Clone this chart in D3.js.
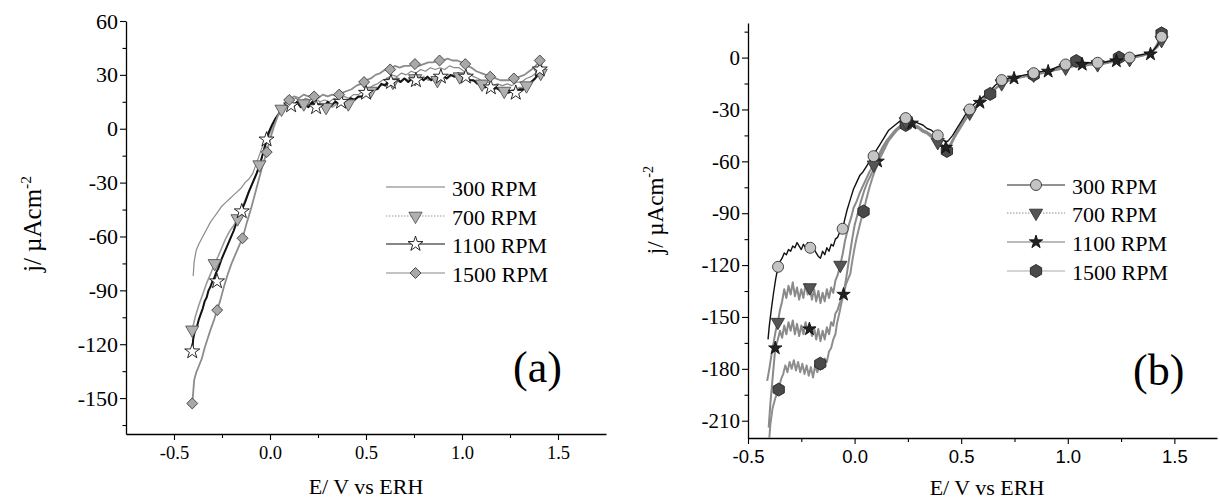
<!DOCTYPE html>
<html>
<head>
<meta charset="utf-8">
<script src="https://cdn.jsdelivr.net/npm/d3@7"></script>
<style>
  body { margin: 0; background: #fff; }
  svg { display: block; }
</style>
</head>
<body>
<script>
// ---- data, panel (a) : E (V vs ERH), j (uA cm-2)
const legendLabels = ["300 RPM", "700 RPM", "1100 RPM", "1500 RPM"];

const a300 = [[-0.40,-82],[-0.395,-74],[-0.385,-68],[-0.37,-64],[-0.35,-60],[-0.33,-56],[-0.31,-52],[-0.29,-49],[-0.27,-46],[-0.25,-43],[-0.23,-41],[-0.21,-39],[-0.19,-37],[-0.17,-35],[-0.15,-33],[-0.13,-30],[-0.11,-28],[-0.09,-25],[-0.07,-19],[-0.05,-13],[-0.03,-7],[-0.01,-2],[0.01,2],[0.03,6],[0.05,9],[0.07,12],[0.09,14],[0.11,16],[0.135,17],[0.16,15],[0.185,17],[0.21,16],[0.235,17],[0.26,15],[0.285,16],[0.31,15],[0.335,17],[0.36,16],[0.385,18],[0.41,17],[0.435,19],[0.46,19],[0.485,21],[0.51,22],[0.535,24],[0.56,25],[0.585,27],[0.61,28],[0.635,30],[0.66,29],[0.685,31],[0.71,30],[0.735,32],[0.76,31],[0.785,33],[0.81,32],[0.835,34],[0.86,33],[0.885,34],[0.91,33],[0.935,35],[0.96,34],[0.985,34],[1.01,32],[1.035,31],[1.06,29],[1.085,28],[1.11,26],[1.135,26],[1.16,24],[1.185,25],[1.21,24],[1.235,25],[1.26,24],[1.285,26],[1.31,26],[1.335,28],[1.36,29],[1.385,31],[1.41,34],[1.42,37]];

const a700 = [[-0.405,-112],[-0.39,-105],[-0.37,-98],[-0.35,-92],[-0.33,-86],[-0.31,-81],[-0.288,-75],[-0.27,-71],[-0.25,-66],[-0.23,-61],[-0.21,-57],[-0.19,-54],[-0.169,-50],[-0.15,-45],[-0.13,-40],[-0.11,-35],[-0.09,-30],[-0.07,-25],[-0.055,-20],[-0.03,-12],[-0.01,-5],[0.02,3],[0.04,7],[0.06,11],[0.08,13],[0.10,14],[0.125,13],[0.15,15],[0.175,14],[0.20,15],[0.225,13],[0.25,14],[0.275,12],[0.30,13],[0.325,12],[0.35,14],[0.375,15],[0.40,14],[0.425,16],[0.45,17],[0.475,18],[0.50,19],[0.525,21],[0.55,22],[0.575,24],[0.60,25],[0.625,26],[0.65,27],[0.675,26],[0.70,28],[0.725,27],[0.75,28],[0.775,27],[0.80,29],[0.825,27],[0.85,28],[0.875,27],[0.90,29],[0.925,28],[0.95,30],[0.975,29],[1.00,30],[1.025,28],[1.05,27],[1.075,26],[1.10,25],[1.125,24],[1.15,23],[1.175,22],[1.20,22],[1.225,21],[1.25,21],[1.275,22],[1.30,23],[1.325,23],[1.35,25],[1.375,27],[1.40,30],[1.415,33]];

const a1100 = [[-0.405,-124],[-0.40,-117],[-0.39,-112],[-0.38,-110],[-0.37,-106],[-0.36,-103],[-0.35,-100],[-0.34,-96],[-0.33,-94],[-0.32,-90],[-0.31,-88],[-0.30,-85],[-0.29,-83],[-0.28,-80],[-0.27,-78],[-0.25,-72],[-0.23,-67],[-0.21,-62],[-0.19,-57],[-0.17,-51],[-0.15,-46],[-0.13,-41],[-0.11,-35],[-0.09,-30],[-0.07,-25],[-0.05,-19],[-0.03,-11],[-0.01,-3],[0.01,2],[0.03,6],[0.05,9],[0.07,11],[0.085,13],[0.10,14],[0.12,12],[0.14,15],[0.16,12],[0.18,14],[0.20,12],[0.22,15],[0.24,12],[0.26,14],[0.28,12],[0.30,15],[0.32,13],[0.34,15],[0.36,14],[0.38,16],[0.40,15],[0.42,17],[0.44,16],[0.46,18],[0.48,18],[0.50,20],[0.52,20],[0.54,22],[0.56,22],[0.58,25],[0.60,24],[0.62,27],[0.64,26],[0.66,28],[0.68,26],[0.70,28],[0.72,26],[0.74,28],[0.76,27],[0.78,29],[0.80,27],[0.82,29],[0.84,27],[0.86,29],[0.88,28],[0.90,30],[0.92,28],[0.94,30],[0.96,29],[0.98,31],[1.00,29],[1.02,29],[1.04,27],[1.06,27],[1.08,25],[1.10,25],[1.12,23],[1.14,24],[1.16,22],[1.18,23],[1.20,21],[1.22,22],[1.24,20],[1.26,21],[1.28,20],[1.30,22],[1.32,22],[1.34,24],[1.36,26],[1.38,28],[1.40,31],[1.415,35]];

const a1500 = [[-0.405,-153],[-0.40,-147],[-0.395,-140],[-0.385,-136],[-0.37,-132],[-0.355,-128],[-0.34,-122],[-0.325,-117],[-0.31,-112],[-0.29,-106],[-0.275,-101],[-0.26,-96],[-0.24,-88],[-0.22,-81],[-0.20,-75],[-0.18,-70],[-0.16,-65],[-0.143,-61],[-0.12,-52],[-0.10,-45],[-0.08,-37],[-0.06,-29],[-0.04,-21],[-0.017,-13],[0.00,-6],[0.02,1],[0.04,7],[0.06,11],[0.08,14],[0.10,16],[0.125,18],[0.15,17],[0.175,19],[0.20,18],[0.225,19],[0.25,17],[0.275,19],[0.30,18],[0.325,19],[0.35,18],[0.375,20],[0.40,21],[0.425,22],[0.45,24],[0.475,25],[0.50,27],[0.525,28],[0.55,30],[0.575,31],[0.60,33],[0.625,33],[0.65,35],[0.675,34],[0.70,35],[0.725,35],[0.75,36],[0.775,35],[0.80,36],[0.825,37],[0.85,37],[0.875,38],[0.90,38],[0.925,39],[0.95,38],[0.975,38],[1.00,37],[1.025,35],[1.05,34],[1.075,32],[1.10,31],[1.125,30],[1.15,29],[1.175,28],[1.20,27],[1.225,27],[1.25,27],[1.275,28],[1.30,29],[1.325,30],[1.35,32],[1.375,34],[1.40,37],[1.415,40]];

const a700Marks = [[-0.405,-112],[-0.288,-75],[-0.169,-50],[-0.055,-20],[0.06,11],[0.176,14],[0.292,12],[0.408,14],[0.524,21],[0.64,26],[0.756,28],[0.872,27],[0.988,29],[1.104,25],[1.22,21],[1.336,24],[1.41,31]];
const a1100Marks = [[-0.405,-124],[-0.276,-85],[-0.147,-46],[-0.018,-6],[0.11,13],[0.24,12],[0.37,15],[0.50,20],[0.63,26],[0.76,27],[0.89,29],[1.02,29],[1.15,23],[1.28,20],[1.405,33]];
const a1500Marks = [[-0.405,-153],[-0.275,-101],[-0.143,-61],[-0.017,-13],[0.10,16],[0.23,18],[0.36,19],[0.49,26],[0.626,33],[0.755,36],[0.883,38],[1.017,36],[1.147,29],[1.27,28],[1.405,38]];

// ---- data, panel (b)
const b300 = [[-0.406,-163],[-0.40,-155],[-0.39,-145],[-0.38,-136],[-0.37,-128],[-0.359,-121],[-0.35,-118],[-0.34,-116],[-0.33,-113],[-0.32,-114],[-0.31,-111],[-0.30,-112],[-0.29,-109],[-0.28,-110],[-0.27,-107],[-0.26,-109],[-0.25,-111],[-0.24,-108],[-0.23,-110],[-0.22,-107],[-0.208,-110],[-0.20,-108],[-0.19,-111],[-0.18,-113],[-0.17,-115],[-0.16,-116],[-0.15,-112],[-0.14,-114],[-0.13,-110],[-0.12,-112],[-0.11,-108],[-0.10,-109],[-0.09,-105],[-0.08,-104],[-0.07,-101],[-0.056,-99],[-0.045,-93],[-0.035,-88],[-0.025,-84],[-0.015,-80],[-0.005,-76],[0.01,-72],[0.025,-68],[0.04,-66],[0.055,-63],[0.07,-60],[0.089,-57],[0.10,-54],[0.12,-50],[0.14,-46],[0.16,-42],[0.18,-40],[0.20,-38],[0.22,-36],[0.24,-35],[0.26,-36],[0.28,-37],[0.30,-38],[0.32,-39],[0.34,-41],[0.36,-42],[0.38,-44],[0.40,-46],[0.42,-48],[0.43,-49],[0.44,-48],[0.46,-45],[0.48,-41],[0.50,-37],[0.52,-33],[0.54,-30],[0.56,-27],[0.58,-25],[0.60,-23],[0.63,-20],[0.66,-16],[0.69,-13],[0.72,-12],[0.76,-11],[0.80,-10],[0.84,-9],[0.88,-8],[0.92,-7],[0.96,-5],[1.00,-4],[1.04,-3],[1.08,-3],[1.12,-3],[1.16,-3],[1.20,-2],[1.24,-1],[1.28,0],[1.32,1],[1.36,2],[1.40,4],[1.42,7],[1.44,12]];

const b700 = [[-0.41,-187],[-0.40,-180],[-0.39,-172],[-0.38,-165],[-0.37,-158],[-0.36,-153],[-0.35,-146],[-0.34,-141],[-0.33,-134],[-0.32,-139],[-0.31,-132],[-0.30,-137],[-0.29,-130],[-0.28,-138],[-0.27,-133],[-0.26,-140],[-0.25,-134],[-0.24,-139],[-0.23,-131],[-0.22,-137],[-0.21,-133],[-0.20,-140],[-0.19,-134],[-0.18,-141],[-0.17,-135],[-0.16,-142],[-0.15,-136],[-0.14,-141],[-0.13,-134],[-0.12,-139],[-0.11,-133],[-0.10,-136],[-0.09,-129],[-0.08,-126],[-0.067,-120],[-0.055,-113],[-0.045,-106],[-0.035,-101],[-0.025,-96],[-0.015,-92],[-0.005,-87],[0.01,-83],[0.025,-78],[0.04,-74],[0.055,-70],[0.07,-66],[0.09,-62],[0.11,-57],[0.13,-52],[0.15,-48],[0.17,-45],[0.19,-42],[0.21,-40],[0.23,-38],[0.25,-37],[0.27,-38],[0.29,-40],[0.31,-41],[0.33,-43],[0.35,-44],[0.37,-46],[0.39,-49],[0.41,-51],[0.43,-53],[0.45,-50],[0.47,-45],[0.49,-41],[0.51,-37],[0.53,-34],[0.55,-31],[0.57,-28],[0.59,-26],[0.62,-22],[0.65,-19],[0.68,-16],[0.71,-14],[0.75,-12],[0.79,-11],[0.83,-10],[0.87,-9],[0.91,-8],[0.95,-7],[0.99,-6],[1.03,-5],[1.07,-5],[1.11,-4],[1.15,-4],[1.19,-3],[1.23,-2],[1.27,-1],[1.31,0],[1.35,1],[1.39,3],[1.42,6],[1.44,10]];

const b1100 = [[-0.403,-214],[-0.395,-200],[-0.385,-186],[-0.372,-168],[-0.36,-163],[-0.35,-158],[-0.34,-162],[-0.33,-155],[-0.32,-160],[-0.31,-153],[-0.30,-158],[-0.29,-152],[-0.28,-160],[-0.27,-154],[-0.26,-161],[-0.25,-155],[-0.24,-160],[-0.23,-153],[-0.22,-159],[-0.21,-155],[-0.20,-161],[-0.19,-156],[-0.18,-163],[-0.17,-157],[-0.16,-164],[-0.15,-158],[-0.14,-163],[-0.13,-156],[-0.12,-160],[-0.11,-153],[-0.10,-155],[-0.09,-148],[-0.08,-146],[-0.07,-142],[-0.06,-140],[-0.052,-137],[-0.04,-128],[-0.03,-120],[-0.02,-112],[-0.01,-104],[0.00,-97],[0.015,-90],[0.03,-83],[0.045,-77],[0.06,-72],[0.08,-67],[0.10,-62],[0.12,-56],[0.14,-51],[0.16,-47],[0.18,-44],[0.20,-41],[0.22,-39],[0.24,-38],[0.26,-38],[0.28,-39],[0.30,-40],[0.32,-42],[0.34,-43],[0.36,-45],[0.38,-47],[0.40,-49],[0.42,-52],[0.44,-52],[0.46,-48],[0.48,-43],[0.50,-39],[0.52,-35],[0.54,-32],[0.56,-29],[0.58,-27],[0.61,-24],[0.64,-20],[0.67,-17],[0.70,-15],[0.74,-12],[0.78,-11],[0.82,-10],[0.86,-9],[0.90,-8],[0.94,-7],[0.98,-6],[1.02,-5],[1.06,-4],[1.10,-4],[1.14,-4],[1.18,-3],[1.22,-2],[1.26,-1],[1.30,0],[1.34,1],[1.38,2],[1.41,5],[1.44,11]];

const b1500 = [[-0.40,-220],[-0.395,-212],[-0.385,-203],[-0.372,-197],[-0.356,-192],[-0.345,-186],[-0.335,-183],[-0.325,-178],[-0.315,-182],[-0.305,-176],[-0.295,-180],[-0.285,-175],[-0.275,-181],[-0.265,-176],[-0.255,-182],[-0.245,-177],[-0.235,-183],[-0.225,-178],[-0.215,-184],[-0.205,-179],[-0.195,-185],[-0.185,-178],[-0.175,-182],[-0.161,-177],[-0.15,-180],[-0.14,-174],[-0.13,-176],[-0.12,-170],[-0.11,-168],[-0.10,-163],[-0.09,-160],[-0.083,-154],[-0.07,-147],[-0.06,-141],[-0.05,-136],[-0.04,-131],[-0.03,-128],[-0.02,-125],[-0.01,-117],[0.00,-110],[0.01,-104],[0.02,-99],[0.03,-94],[0.042,-89],[0.055,-82],[0.07,-75],[0.085,-69],[0.10,-64],[0.12,-58],[0.14,-53],[0.16,-48],[0.18,-45],[0.20,-42],[0.22,-40],[0.24,-39],[0.26,-39],[0.28,-40],[0.30,-41],[0.32,-43],[0.34,-44],[0.36,-46],[0.38,-48],[0.40,-50],[0.42,-53],[0.433,-54],[0.45,-51],[0.47,-46],[0.49,-42],[0.51,-38],[0.53,-34],[0.55,-31],[0.57,-29],[0.59,-26],[0.61,-24],[0.636,-21],[0.66,-18],[0.69,-15],[0.72,-13],[0.76,-12],[0.80,-11],[0.84,-10],[0.88,-9],[0.92,-8],[0.96,-6],[1.00,-4],[1.04,-2],[1.08,-3],[1.12,-4],[1.16,-3],[1.20,-2],[1.24,0],[1.28,0],[1.32,1],[1.36,2],[1.40,4],[1.42,8],[1.44,14]];

const b300Marks = [[-0.359,-121],[-0.208,-110],[-0.056,-99],[0.089,-57],[0.24,-35],[0.39,-45],[0.54,-30],[0.69,-13],[0.84,-9],[0.99,-4],[1.14,-3],[1.29,0],[1.44,12]];
const b700Marks = [[-0.36,-153],[-0.21,-133],[-0.067,-120],[0.09,-62],[0.24,-37],[0.39,-49],[0.54,-32],[0.69,-15],[0.84,-10],[0.99,-6],[1.14,-4],[1.29,-1],[1.44,10]];
const b1100Marks = [[-0.372,-168],[-0.212,-157],[-0.052,-137],[0.108,-60],[0.268,-38],[0.428,-52],[0.588,-26],[0.748,-12],[0.908,-8],[1.068,-4],[1.228,-2],[1.388,2]];
const b1500Marks = [[-0.356,-192],[-0.161,-177],[0.042,-89],[0.24,-39],[0.433,-54],[0.636,-21],[0.84,-10],[1.04,-2],[1.24,0],[1.44,14]];

// tick values
const aYMajor = [-150, -120, -90, -60, -30, 0, 30, 60];
const aYMinor = [-165, -135, -105, -75, -45, -15, 15, 45];
const bYMajor = [-210, -180, -150, -120, -90, -60, -30, 0];
const bYMinor = [-195, -165, -135, -105, -75, -45, -15, 15];
const xMajor = [-0.5, 0, 0.5, 1.0, 1.5];
const xMinor = [-0.25, 0.25, 0.75, 1.25];

const serif = "'Liberation Serif', 'Times New Roman', serif";
const sans = "'Liberation Sans', Arial, sans-serif";

// hexagon symbol (not in d3)
const symbolHex = {
    draw(ctx, size) {
        const r = Math.sqrt(size / 2.598);
        for (let i = 0; i < 6; i++) {
            const a = -Math.PI / 2 + i * Math.PI / 3;
            if (i === 0) ctx.moveTo(r * Math.cos(a), r * Math.sin(a));
            else ctx.lineTo(r * Math.cos(a), r * Math.sin(a));
        }
        ctx.closePath();
    }
};

const svg = d3.select("body").append("svg")
    .attr("width", 1220)
    .attr("height", 499);

function drawAxes(x, y, yMajor, yMinor, xFont, xFontSize, yFontSize) {
    const g = svg.append("g");
    // y minor / major
    g.append("g").attr("transform", `translate(${x.range()[0]},0)`)
        .call(d3.axisLeft(y).tickValues(yMinor).tickSize(3.5).tickFormat(""))
        .call(s => s.select(".domain").remove());
    const ya = g.append("g").attr("transform", `translate(${x.range()[0]},0)`)
        .call(d3.axisLeft(y).tickValues(yMajor).tickSize(6).tickPadding(2).tickSizeOuter(0).tickFormat(d => String(d)));
    ya.attr("font-family", null).attr("font-size", null);
    ya.selectAll("text").style("font-family", serif).style("font-size", yFontSize + "px").attr("fill", "#000");
    // x minor / major
    const y0 = y.range()[0];
    g.append("g").attr("transform", `translate(0,${y0})`)
        .call(d3.axisBottom(x).tickValues(xMinor).tickSize(4).tickFormat(""))
        .call(s => s.select(".domain").remove());
    const xa = g.append("g").attr("transform", `translate(0,${y0})`)
        .call(d3.axisBottom(x).tickValues(xMajor).tickSize(6).tickPadding(6).tickSizeOuter(0).tickFormat(d => d.toFixed(1)));
    xa.attr("font-family", null).attr("font-size", null);
    xa.selectAll("text").style("font-family", xFont).style("font-size", xFontSize + "px").attr("fill", "#000");
    g.selectAll(".domain").attr("stroke", "#000").attr("stroke-width", 1.3);
    g.selectAll(".tick line").attr("stroke", "#000").attr("stroke-width", 1.1);
}

function drawLine(x, y, data, color, width, dash) {
    svg.append("path")
        .datum(data)
        .attr("fill", "none")
        .attr("stroke", color)
        .attr("stroke-width", width)
        .attr("stroke-dasharray", dash || null)
        .attr("stroke-linejoin", "round")
        .attr("d", d3.line().x(d => x(d[0])).y(d => y(d[1])));
}

function drawMarks(x, y, data, type, size, fill, stroke, rot) {
    svg.append("g").selectAll("path")
        .data(data)
        .join("path")
        .attr("d", d3.symbol().type(type).size(size))
        .attr("transform", d => `translate(${x(d[0])},${y(d[1])}) rotate(${rot || 0})`)
        .attr("fill", fill)
        .attr("stroke", stroke)
        .attr("stroke-width", 0.9);
}

function yTitle(px, py, size) {
    const t = svg.append("text")
        .attr("transform", `translate(${px},${py}) rotate(-90)`)
        .attr("text-anchor", "middle")
        .style("font-family", serif)
        .attr("font-size", size);
    t.append("tspan").text("j/ µAcm");
    t.append("tspan").attr("dy", -size * 0.42).attr("font-size", size * 0.62).text("-2");
}

function legend(x0, x1, rows, items) {
    items.forEach((it, i) => {
        const g = svg.append("g").attr("transform", `translate(0,${rows[i]})`);
        g.append("line").attr("x1", x0).attr("x2", x1)
            .attr("stroke", it.color).attr("stroke-width", it.width)
            .attr("stroke-dasharray", it.dash || null);
        if (it.type) {
            g.append("path")
                .attr("d", d3.symbol().type(it.type).size(it.size))
                .attr("transform", `translate(${(x0 + x1) / 2},0) rotate(${it.rot || 0})`)
                .attr("fill", it.fill).attr("stroke", it.stroke).attr("stroke-width", 0.9);
        }
        g.append("text").attr("x", x1 + 7).attr("y", 9)
            .style("font-family", serif).attr("font-size", 22)
            .text(legendLabels[i]);
    });
}

// ================= panel (a)
const xa = d3.scaleLinear().domain([-0.75, 1.75]).range([126, 606]);
const ya = d3.scaleLinear().domain([-170, 60]).range([434, 21]);

drawAxes(xa, ya, aYMajor, aYMinor, serif, 18.5, 22);

drawLine(xa, ya, a300, "#8a8a8a", 1.2);
drawLine(xa, ya, a700, "#9a9a9a", 1.6);
drawLine(xa, ya, a1100, "#111", 2);
drawLine(xa, ya, a1500, "#8c8c8c", 1.8);
drawMarks(xa, ya, a700Marks, d3.symbolTriangle, 75, "#b0b0b0", "#555", 180);
drawMarks(xa, ya, a1100Marks, d3.symbolStar, 70, "#fff", "#111", 0);
drawMarks(xa, ya, a1500Marks, d3.symbolSquare, 60, "#a8a8a8", "#444", 45);

legend(386, 445, [187, 216, 244, 273], [
    { color: "#777", width: 1 },
    { color: "#999", width: 1.2, dash: "1.5,1.5", type: d3.symbolTriangle, size: 75, fill: "#b0b0b0", stroke: "#555", rot: 180 },
    { color: "#111", width: 1.2, type: d3.symbolStar, size: 70, fill: "#fff", stroke: "#111" },
    { color: "#888", width: 1.2, type: d3.symbolSquare, size: 60, fill: "#a8a8a8", stroke: "#444", rot: 45 }
]);

svg.append("text").attr("x", 513).attr("y", 382)
    .style("font-family", serif).attr("font-size", 44).text("(a)");
svg.append("text").attr("x", 366).attr("y", 494).attr("text-anchor", "middle")
    .style("font-family", serif).attr("font-size", 22).text("E/ V vs ERH");
yTitle(41, 224, 25);

// ================= panel (b)
const xb = d3.scaleLinear().domain([-0.5, 1.7]).range([748, 1217]);
const yb = d3.scaleLinear().domain([-220, 20]).range([438, 23]);

drawAxes(xb, yb, bYMajor, bYMinor, sans, 18.5, 21);

drawLine(xb, yb, b1500, "#8e8e8e", 2);
drawLine(xb, yb, b1100, "#8a8a8a", 2);
drawLine(xb, yb, b700, "#8a8a8a", 2);
drawLine(xb, yb, b300, "#111", 1.4);
drawMarks(xb, yb, b1500Marks, symbolHex, 110, "#4a4a4a", "#222", 0);
drawMarks(xb, yb, b1100Marks, d3.symbolStar, 55, "#222", "#111", 0);
drawMarks(xb, yb, b700Marks, d3.symbolTriangle, 75, "#555", "#333", 180);
drawMarks(xb, yb, b300Marks, d3.symbolCircle, 95, "#c4c4c4", "#333", 0);

legend(1007, 1065, [185, 213, 242, 271], [
    { color: "#222", width: 1, type: d3.symbolCircle, size: 95, fill: "#c4c4c4", stroke: "#333" },
    { color: "#888", width: 1, dash: "1.5,1.5", type: d3.symbolTriangle, size: 75, fill: "#555", stroke: "#333", rot: 180 },
    { color: "#777", width: 1, type: d3.symbolStar, size: 55, fill: "#222", stroke: "#111" },
    { color: "#aaa", width: 1.2, type: symbolHex, size: 110, fill: "#4a4a4a", stroke: "#222" }
]);

svg.append("text").attr("x", 1133).attr("y", 385)
    .style("font-family", serif).attr("font-size", 44).text("(b)");
svg.append("text").attr("x", 987).attr("y", 495).attr("text-anchor", "middle")
    .style("font-family", serif).attr("font-size", 22).text("E/ V vs ERH");
yTitle(663, 210, 23);
</script>
</body>
</html>
